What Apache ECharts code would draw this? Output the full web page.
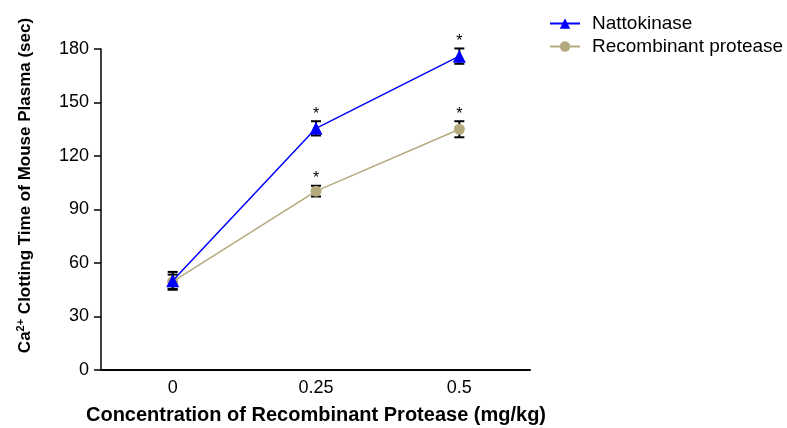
<!DOCTYPE html>
<html>
<head>
<meta charset="utf-8">
<script src="https://cdn.jsdelivr.net/npm/echarts@6/dist/echarts.min.js"></script>
<style>
  html, body { margin: 0; padding: 0; background: #fff; }
  #chart { width: 787px; height: 428px; }
</style>
</head>
<body>
<div id="chart"></div>
<script>
// Dose levels (mg/kg)
var doses = ['0', '0.25', '0.5'];
// Mean clotting time (sec) and SEM per dose
var nattoMean = [50, 135.5, 176];
var nattoErr = [5, 4, 4.3];
var recMean = [49.5, 100.3, 135];
var recErr = [4, 3, 4.5];
// Significance marks per dose
var nattoSig = [false, true, true];
var recSig = [false, true, true];
var yTicks = { min: 0, max: 180, interval: 30 };

var FONT = 'Liberation Sans, Arial, sans-serif';
var BLUE = '#0000ff';
var TAN = '#b5aa7d';

function errorRows(mean, err, sig) {
  return mean.map(function (m, i) {
    return [i, m - err[i], m + err[i], sig[i] ? 1 : 0];
  });
}

function renderErr(params, api) {
  var x = api.value(0);
  var lo = api.coord([x, api.value(1)]);
  var hi = api.coord([x, api.value(2)]);
  var half = 5;
  var style = { stroke: '#000', lineWidth: 2 };
  var children = [
    { type: 'line', shape: { x1: hi[0], y1: hi[1], x2: lo[0], y2: lo[1] }, style: style },
    { type: 'line', shape: { x1: hi[0] - half, y1: hi[1], x2: hi[0] + half, y2: hi[1] }, style: style },
    { type: 'line', shape: { x1: lo[0] - half, y1: lo[1], x2: lo[0] + half, y2: lo[1] }, style: style }
  ];
  if (api.value(3)) {
    children.push({
      type: 'text',
      style: {
        text: '*', x: hi[0], y: hi[1] + 1,
        align: 'center', verticalAlign: 'bottom',
        font: '16px ' + FONT, fill: '#000'
      }
    });
  }
  return { type: 'group', children: children };
}

var chart = echarts.init(document.getElementById('chart'));
chart.setOption({
  animation: false,
  backgroundColor: '#fff',
  grid: { left: 101, right: 256, top: 49, bottom: 58, containLabel: false, outerBoundsMode: 'none' },
  legend: {
    orient: 'vertical',
    left: 544,
    top: 9,
    itemWidth: 30,
    itemHeight: 13,
    itemGap: 4,
    textStyle: { fontFamily: FONT, fontSize: 19, color: '#000', padding: [0, 0, 0, 7] },
    data: ['Nattokinase', 'Recombinant protease']
  },
  xAxis: {
    type: 'category',
    data: doses,
    boundaryGap: true,
    name: 'Concentration of Recombinant Protease (mg/kg)',
    nameLocation: 'middle',
    nameGap: 35,
    nameTextStyle: { fontFamily: FONT, fontSize: 20, fontWeight: 'bold', color: '#000' },
    axisLine: { lineStyle: { color: '#000', width: 2, type: [1, 1] } },
    axisTick: { alignWithLabel: true, length: 5, lineStyle: { color: '#000', width: 1.5 } },
    axisLabel: { fontFamily: FONT, fontSize: 18, color: '#000', margin: 9 },
    splitLine: { show: false }
  },
  yAxis: {
    type: 'value',
    min: yTicks.min,
    max: yTicks.max,
    interval: yTicks.interval,
    name: 'Ca{sup|2+} Clotting Time of Mouse Plasma (sec)',
    nameLocation: 'middle',
    nameRotate: 90,
    nameGap: 66,
    nameTextStyle: {
      fontFamily: FONT, fontSize: 17, fontWeight: 'bold', color: '#000',
      padding: [0, 0, 0, 48],
      rich: {
        sup: { fontFamily: FONT, fontSize: 11, fontWeight: 'bold', color: '#000', verticalAlign: 'top', padding: [0, 0, 9, 0] }
      }
    },
    axisLine: { show: true, lineStyle: { color: '#000', width: 1.5 } },
    axisTick: { show: true, length: 7, lineStyle: { color: '#000', width: 1.5 } },
    axisLabel: { fontFamily: FONT, fontSize: 18, color: '#000', margin: 12 },
    splitLine: { show: false }
  },
  series: [
    {
      name: 'Recombinant protease',
      type: 'line',
      data: recMean,
      symbol: 'circle',
      symbolSize: 11,
      itemStyle: { color: TAN },
      lineStyle: { color: TAN, width: 1.5 },
      z: 3
    },
    {
      name: 'Nattokinase',
      type: 'line',
      data: nattoMean,
      symbol: 'triangle',
      symbolSize: 13,
      itemStyle: { color: BLUE },
      lineStyle: { color: BLUE, width: 1.5 },
      z: 4
    },
    {
      type: 'custom',
      name: 'recErr',
      renderItem: renderErr,
      data: errorRows(recMean, recErr, recSig),
      z: 2
    },
    {
      type: 'custom',
      name: 'nattoErr',
      renderItem: renderErr,
      data: errorRows(nattoMean, nattoErr, nattoSig),
      z: 2
    }
  ]
});
</script>
</body>
</html>
